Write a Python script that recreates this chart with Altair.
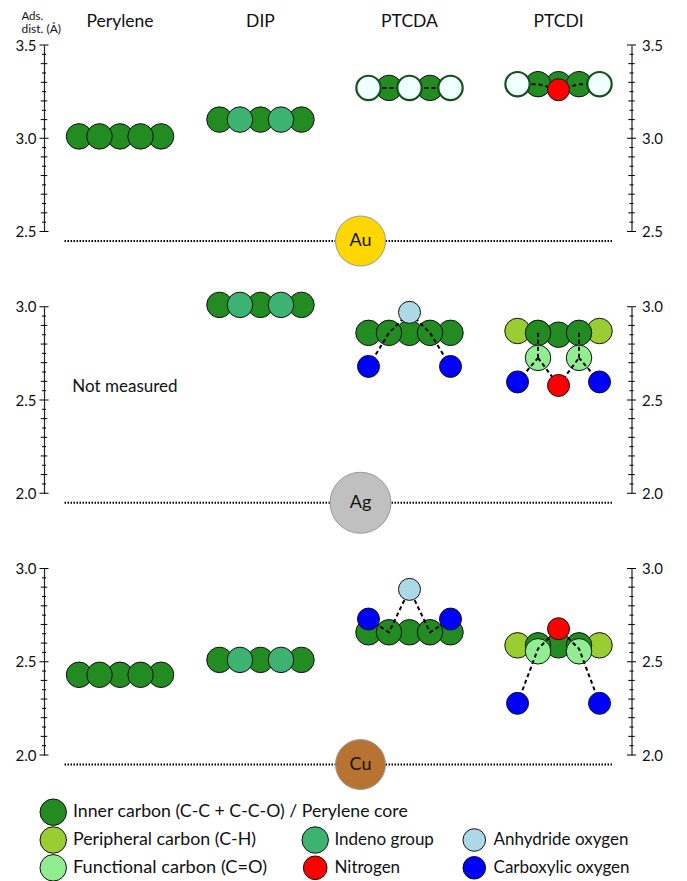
import altair as alt
import pandas as pd

FONT = "Lato"

# x positions are in units of one atom spacing
molecules = ["Perylene", "DIP", "PTCDA", "PTCDI"]
mol_x = [3.71, 10.56, 17.83, 25.10]
x_max = 28.66
surface_x = 15.44
line_x = [1.0, 27.73]

# atom tables: molecule index, offset from the centre, adsorption distance, kind
au_mol = [0,0,0,0,0, 1,1,1,1,1, 2,2, 3,3,3, 2,2,2, 3,3,3]
au_off = [-2,0,2,-1,1, -2,0,2,-1,1, -1,1, 0,-1,1, -2,0,2, -2,2,0]
au_dist = [3.01,3.01,3.01,3.01,3.01, 3.10,3.10,3.10,3.10,3.10, 3.27,3.27, 3.29,3.29,3.29, 3.27,3.27,3.27, 3.29,3.29,3.26]
au_kind = ["core","core","core","core","core", "core","core","core","indeno","indeno", "core","core", "core","core","core", "edge","edge","edge", "edge","edge","N"]

ag_mol = [1,1,1,1,1, 2,2,2,2,2, 3,3,3,3,3, 3,3, 2,2,2, 3,3,3]
ag_off = [-2,0,2,-1,1, -2,0,2,-1,1, -2,2,0,-1,1, -1,1, 0,-2,2, -2,2,0]
ag_dist = [3.01,3.01,3.01,3.01,3.01, 2.86,2.86,2.86,2.86,2.86, 2.87,2.87,2.85,2.86,2.86, 2.726,2.726, 2.97,2.68,2.68, 2.597,2.597,2.578]
ag_kind = ["core","core","core","indeno","indeno", "core","core","core","core","core", "peripheral","peripheral","core","core","core", "functional","functional", "anhydride","carboxylic","carboxylic", "carboxylic","carboxylic","N"]

cu_mol = [0,0,0,0,0, 1,1,1,1,1, 2,2,2,2,2, 3,3,3,3,3, 3,3, 2,2,2, 3,3,3]
cu_off = [-2,0,2,-1,1, -2,0,2,-1,1, -2,0,2,-1,1, -2,2,0,-1,1, -1,1, 0,-2,2, 0,-2,2]
cu_dist = [2.43,2.43,2.43,2.43,2.43, 2.51,2.51,2.51,2.51,2.51, 2.658,2.658,2.658,2.658,2.658, 2.588,2.588,2.588,2.588,2.588, 2.556,2.556, 2.888,2.729,2.729, 2.677,2.277,2.277]
cu_kind = ["core","core","core","core","core", "core","core","core","indeno","indeno", "core","core","core","core","core", "peripheral","peripheral","core","core","core", "functional","functional", "anhydride","carboxylic","carboxylic", "N","carboxylic","carboxylic"]

# dashed bonds: bond id, molecule, offset, distance, in drawing order along the bond
au_bond_id = ["a","a", "b","b","b","b","b"]
au_bond_mol = [2,2, 3,3,3,3,3]
au_bond_off = [-2,2, -2,-1,0,1,2]
au_bond_dist = [3.27,3.27, 3.29,3.29,3.26,3.29,3.29]

ag_bond_id = ["a","a","a", "b","b","b", "c","c", "d","d", "e","e", "f","f", "g","g","g"]
ag_bond_mol = [2,2,2, 2,2,2, 3,3, 3,3, 3,3, 3,3, 3,3,3]
ag_bond_off = [-2,-1,0, 2,1,0, -1,-1, 1,1, -2,-1, 2,1, -1,0,1]
ag_bond_dist = [2.68,2.86,2.97, 2.68,2.86,2.97, 2.86,2.726, 2.86,2.726, 2.597,2.726, 2.597,2.726, 2.726,2.578,2.726]

cu_bond_id = ["a","a","a", "b","b","b", "c","c","c", "d","d","d"]
cu_bond_mol = [2,2,2, 2,2,2, 3,3,3, 3,3,3]
cu_bond_off = [-2,-1,0, 2,1,0, -2,-1,0, 2,1,0]
cu_bond_dist = [2.729,2.658,2.888, 2.729,2.658,2.888, 2.277,2.57,2.677, 2.277,2.57,2.677]

kinds = ["core", "indeno", "peripheral", "functional", "edge", "anhydride", "carboxylic", "N"]
kind_fill = ["#228B22", "#3CB371", "#9ACD32", "#90EE90", "#F0FFFF", "#ADD8E6", "#0000FF", "#FF0000"]
kind_size = [650, 650, 650, 650, 590, 484, 484, 484]
kind_stroke = ["#111111"] * 4 + ["#14501A"] + ["#111111"] * 3
kind_width = [1, 1, 1, 1, 2.2, 1, 1, 1]
under_kinds = ["core", "indeno", "peripheral", "functional"]
size_of = dict(zip(kinds, kind_size))
width_of = dict(zip(kinds, kind_width))

surfaces = ["Au", "Ag", "Cu"]
surface_fill = ["#FFD700", "#C0C0C0", "#B87333"]
surface_dist = [2.449, 1.949, 1.949]
surface_size = [2500, 3720, 2500]
domains = [[2.5, 3.5], [2.0, 3.0], [2.0, 3.0]]
major_ticks = [[2.5, 3.0, 3.5], [2.0, 2.5, 3.0], [2.0, 2.5, 3.0]]

legend_col_circle = [0.45, 0.45, 0.45, 13.23, 13.23, 20.99, 20.99]
legend_col_text = [1.415, 1.415, 1.415, 14.17, 14.17, 21.93, 21.93]
legend_row = [0, 1, 2, 1, 2, 1, 2]
legend_kind = ["core", "peripheral", "functional", "indeno", "N", "anhydride", "carboxylic"]
legend_text = ["Inner carbon (C-C + C-C-O) / Perylene core", "Peripheral carbon (C-H)", "Functional carbon (C=O)",
               "Indeno group", "Nitrogen", "Anhydride oxygen", "Carboxylic oxygen"]
legend_font = [17.7, 17.8, 18.2, 17, 17, 17, 17]

W, H = 587.5, 186.5
x_scale = alt.Scale(domain=[0, x_max], nice=False, zero=False)
X = lambda f: alt.X(f, scale=x_scale, axis=None)

fill_enc = alt.Fill("kind:N", scale=alt.Scale(domain=kinds, range=kind_fill), legend=None)
stroke_enc = alt.Stroke("kind:N", scale=alt.Scale(domain=kinds, range=kind_stroke), legend=None)
size_enc = alt.Size("s:Q", scale=None)
width_enc = alt.StrokeWidth("w:Q", scale=None)


def atoms(mol, off, dist, kind):
    return pd.DataFrame({"x": [mol_x[m] + o for m, o in zip(mol, off)], "d": dist, "kind": kind,
                         "s": [size_of[k] for k in kind], "w": [width_of[k] for k in kind]})


def bonds(ids, mol, off, dist):
    return pd.DataFrame({"id": ids, "x": [mol_x[m] + o for m, o in zip(mol, off)], "d": dist, "i": range(len(ids))})


def ticks(dom, side):
    rows = []
    base = 0.0 if side == "left" else x_max
    lo, hi = dom
    n = int(round((hi - lo) / 0.05))
    for k in range(n + 1):
        half = 0.22 if k % 10 == 0 else (0.16 if k % 2 == 0 else 0.1)
        rows.append({"v": lo + k * 0.05, "x0": base - half, "x1": base + half})
    return pd.DataFrame(rows)


def axis(orient, values):
    return alt.Axis(orient=orient, values=values, format=".1f", title=None, grid=False, ticks=False,
                    labelFont=FONT, labelFontSize=15, labelColor="#111111", labelPadding=8 if orient == "left" else 10,
                    domain=True, domainColor="#222222", domainWidth=1.2)


def panel(idx, atom_df, bond_df, extras):
    scale = alt.Scale(domain=domains[idx], nice=False, zero=False)
    Y = lambda f: alt.Y(f, scale=scale, axis=None)
    left = alt.Chart(ticks(domains[idx], "left")).mark_rule(color="black", strokeWidth=1).encode(
        x=X("x0:Q"), x2="x1:Q", y=alt.Y("v:Q", scale=scale, axis=axis("left", major_ticks[idx])))
    surf_df = pd.DataFrame({"x": [surface_x], "d": [surface_dist[idx]], "name": [surfaces[idx]]})
    line = alt.Chart(pd.DataFrame({"x0": [line_x[0]], "x1": [line_x[1]], "d": [surface_dist[idx]]})).mark_rule(
        color="black", strokeWidth=2, strokeDash=[1.5, 1.5]).encode(x=X("x0:Q"), x2="x1:Q", y=Y("d:Q"))
    disc = alt.Chart(surf_df).mark_circle(opacity=1, stroke="#999999", strokeWidth=1, fill=surface_fill[idx],
                                          size=surface_size[idx]).encode(x=X("x:Q"), y=Y("d:Q"))
    label = alt.Chart(surf_df).mark_text(font=FONT, fontSize=18, color="#111111").encode(
        x=X("x:Q"), y=Y("d:Q"), text="name:N")
    under = atom_df[atom_df.kind.isin(under_kinds)]
    over = atom_df[~atom_df.kind.isin(under_kinds)]

    def circles(df):
        return alt.Chart(df).mark_circle(opacity=1).encode(
            x=X("x:Q"), y=Y("d:Q"), fill=fill_enc, size=size_enc, stroke=stroke_enc, strokeWidth=width_enc)

    layers = [left, line, disc, label]
    if len(under):
        layers.append(circles(under))
    layers.append(alt.Chart(bond_df).mark_line(color="black", strokeWidth=2, strokeDash=[4, 3]).encode(
        x=X("x:Q"), y=Y("d:Q"), detail="id:N", order="i:Q"))
    layers.append(circles(over))
    layers += [e(X, Y) for e in extras]
    right = alt.Chart(ticks(domains[idx], "right")).mark_rule(color="black", strokeWidth=1).encode(
        x=X("x0:Q"), x2="x1:Q", y=alt.Y("v:Q", scale=scale, axis=axis("right", major_ticks[idx])))
    layers.append(right)
    return alt.layer(*layers).resolve_scale(y="independent").properties(width=W, height=H)


def headers(X, Y):
    df = pd.DataFrame({"x": mol_x, "name": molecules})
    return alt.Chart(df).mark_text(font=FONT, fontSize=17.5, baseline="alphabetic", color="#111111").encode(
        x=X("x:Q"), y=alt.value(-18.3), text="name:N")


def unit1(X, Y):
    return alt.Chart(pd.DataFrame({"x": [-1.1], "t": ["Ads."]})).mark_text(
        font=FONT, fontSize=11.5, align="left", baseline="alphabetic", color="#111111").encode(
        x=X("x:Q"), y=alt.value(-25.5), text="t:N")


def unit2(X, Y):
    return alt.Chart(pd.DataFrame({"x": [-1.1], "t": ["dist. (Å)"]})).mark_text(
        font=FONT, fontSize=12, align="left", baseline="alphabetic", color="#111111").encode(
        x=X("x:Q"), y=alt.value(-12.5), text="t:N")


def not_measured(X, Y):
    return alt.Chart(pd.DataFrame({"x": [3.95], "d": [2.57], "t": ["Not measured"]})).mark_text(
        font=FONT, fontSize=17, color="#111111").encode(x=X("x:Q"), y=Y("d:Q"), text="t:N")


p_au = panel(0, atoms(au_mol, au_off, au_dist, au_kind), bonds(au_bond_id, au_bond_mol, au_bond_off, au_bond_dist),
             [headers, unit1, unit2])
p_ag = panel(1, atoms(ag_mol, ag_off, ag_dist, ag_kind), bonds(ag_bond_id, ag_bond_mol, ag_bond_off, ag_bond_dist),
             [not_measured])
p_cu = panel(2, atoms(cu_mol, cu_off, cu_dist, cu_kind), bonds(cu_bond_id, cu_bond_mol, cu_bond_off, cu_bond_dist), [])

legend_df = pd.DataFrame({"xc": legend_col_circle, "xt": legend_col_text, "r": legend_row, "kind": legend_kind,
                          "t": legend_text, "fs": legend_font,
                          "s": [700, 700, 700, 700, 560, 510, 510], "w": [1] * 7})
leg_y = alt.Scale(domain=[2.088, 0.649], nice=False, zero=False)
leg_c = alt.Chart(legend_df).mark_circle(opacity=1).encode(
    x=X("xc:Q"), y=alt.Y("r:Q", scale=leg_y, axis=None), fill=fill_enc, size=size_enc, stroke=stroke_enc, strokeWidth=width_enc)
leg_t = alt.Chart(legend_df).mark_text(font=FONT, align="left", color="#111111").encode(
    x=X("xt:Q"), y=alt.Y("r:Q", scale=leg_y, axis=None), text="t:N", size=alt.Size("fs:Q", scale=None))
p_leg = alt.layer(leg_c, leg_t).properties(width=W, height=40)

chart = alt.vconcat(p_au, p_ag, p_cu, p_leg, spacing=74.75, bounds="flush").resolve_scale(
    fill="independent", stroke="independent"
).properties(padding={"left": 7, "top": 2, "right": 0, "bottom": 0}, background="white").configure_view(stroke=None)

chart.save("out.html", embed_options={"renderer": "svg", "actions": False})
